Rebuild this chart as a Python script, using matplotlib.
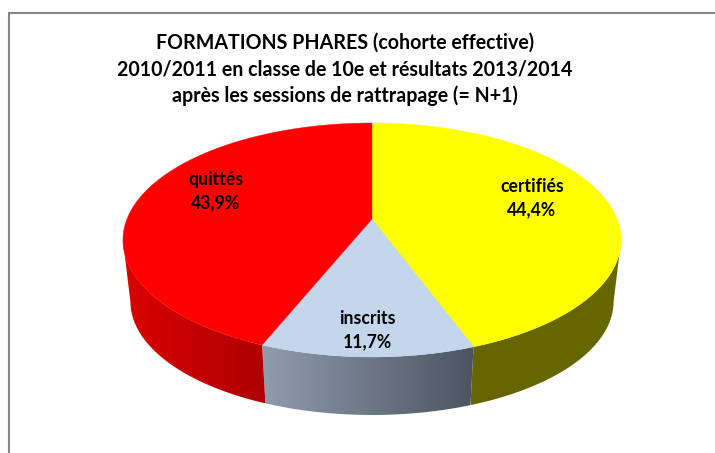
import numpy as np
import matplotlib
matplotlib.use("Agg")
import matplotlib.pyplot as plt
from matplotlib.patches import Polygon
from matplotlib.colors import LinearSegmentedColormap

title_lines = ["FORMATIONS PHARES (cohorte effective)",
               "2010/2011 en classe de 10e et résultats 2013/2014",
               "après les sessions de rattrapage (= N+1)"]
labels = ["certifiés", "inscrits", "quittés"]
values = [44.4, 11.7, 43.9]
pct_labels = ["44,4%", "11,7%", "43,9%"]
top_colors = ["#ffff00", "#c3d6ec", "#ff0000"]
side_left = ["#666600", "#8f9dae", "#da0000"]
side_right = ["#666600", "#4c5460", "#ae0000"]
label_pos = [(532, 187), (367, 319), (216, 180)]

plt.rcParams["font.family"] = ["Lato", "DejaVu Sans"]

# pie in a perspective view, pixel coords
cx, cy = 372, 219
persp = 0.1795
ax_a, ax_b = 245, 113.2
bottom_y = 415
front_y = 357
shrink_x, shrink_y = 0.97, 0.97


def top_rim(theta):
    u, v = np.sin(theta), -np.cos(theta)
    d = 1 - persp * v
    return cx + ax_a * u / d, cy + ax_b * v / d


def low_rim(theta):
    x, y = top_rim(theta)
    return cx + shrink_x * (x - cx), bottom_y - shrink_y * (front_y - y)


fig = plt.figure(figsize=(7.15, 4.53), dpi=100)
ax = fig.add_axes([0, 0, 1, 1])
ax.set_xlim(0, 715)
ax.set_ylim(453, 0)
ax.axis("off")

# chart frame, open at right and bottom
ax.plot([8.5, 8.5, 715], [453, 12.5, 12.5], color="#868686", lw=1.5, solid_joinstyle="miter", zorder=1)

edges = np.cumsum([0] + values) / sum(values) * 2 * np.pi

# sides first, top face painted over them
for i in range(len(values)):
    th = np.linspace(edges[i], edges[i + 1], 600)
    # only the rim in front of the widest point shows
    th = th[np.cos(th) <= -persp]
    x1, y1 = top_rim(th)
    x2, y2 = low_rim(th)
    pts = np.r_[np.c_[x1, y1], np.c_[x2, y2][::-1]]
    cmap = LinearSegmentedColormap.from_list("side", [side_left[i], side_right[i]])
    xmin, xmax = pts[:, 0].min(), pts[:, 0].max()
    im = ax.imshow(np.linspace(0, 1, 256).reshape(1, -1), cmap=cmap, aspect="auto",
                   extent=(xmin, xmax, pts[:, 1].max(), pts[:, 1].min()), zorder=2)
    im.set_clip_path(Polygon(pts, closed=True, transform=ax.transData))

ax.set_xlim(0, 715)
ax.set_ylim(453, 0)

for i in range(len(values)):
    th = np.linspace(edges[i], edges[i + 1], 200)
    x, y = top_rim(th)
    ax.fill(np.r_[cx, x], np.r_[cy, y], color=top_colors[i], lw=0.3, zorder=3)

for i in range(len(values)):
    x, y = label_pos[i]
    ax.text(x, y, labels[i], ha="center", va="center", fontsize=12.7, fontweight="bold", color="black", zorder=4)
    ax.text(x, y + 22.5, pct_labels[i], ha="center", va="center", fontsize=12.7, fontweight="bold", color="black", zorder=4)

for i, line in enumerate(title_lines):
    ax.text(345, 43 + 26.5 * i, line, ha="center", va="center", fontsize=14.1, fontweight="bold", color="black", zorder=4)

fig.savefig("out.png", dpi=100)
